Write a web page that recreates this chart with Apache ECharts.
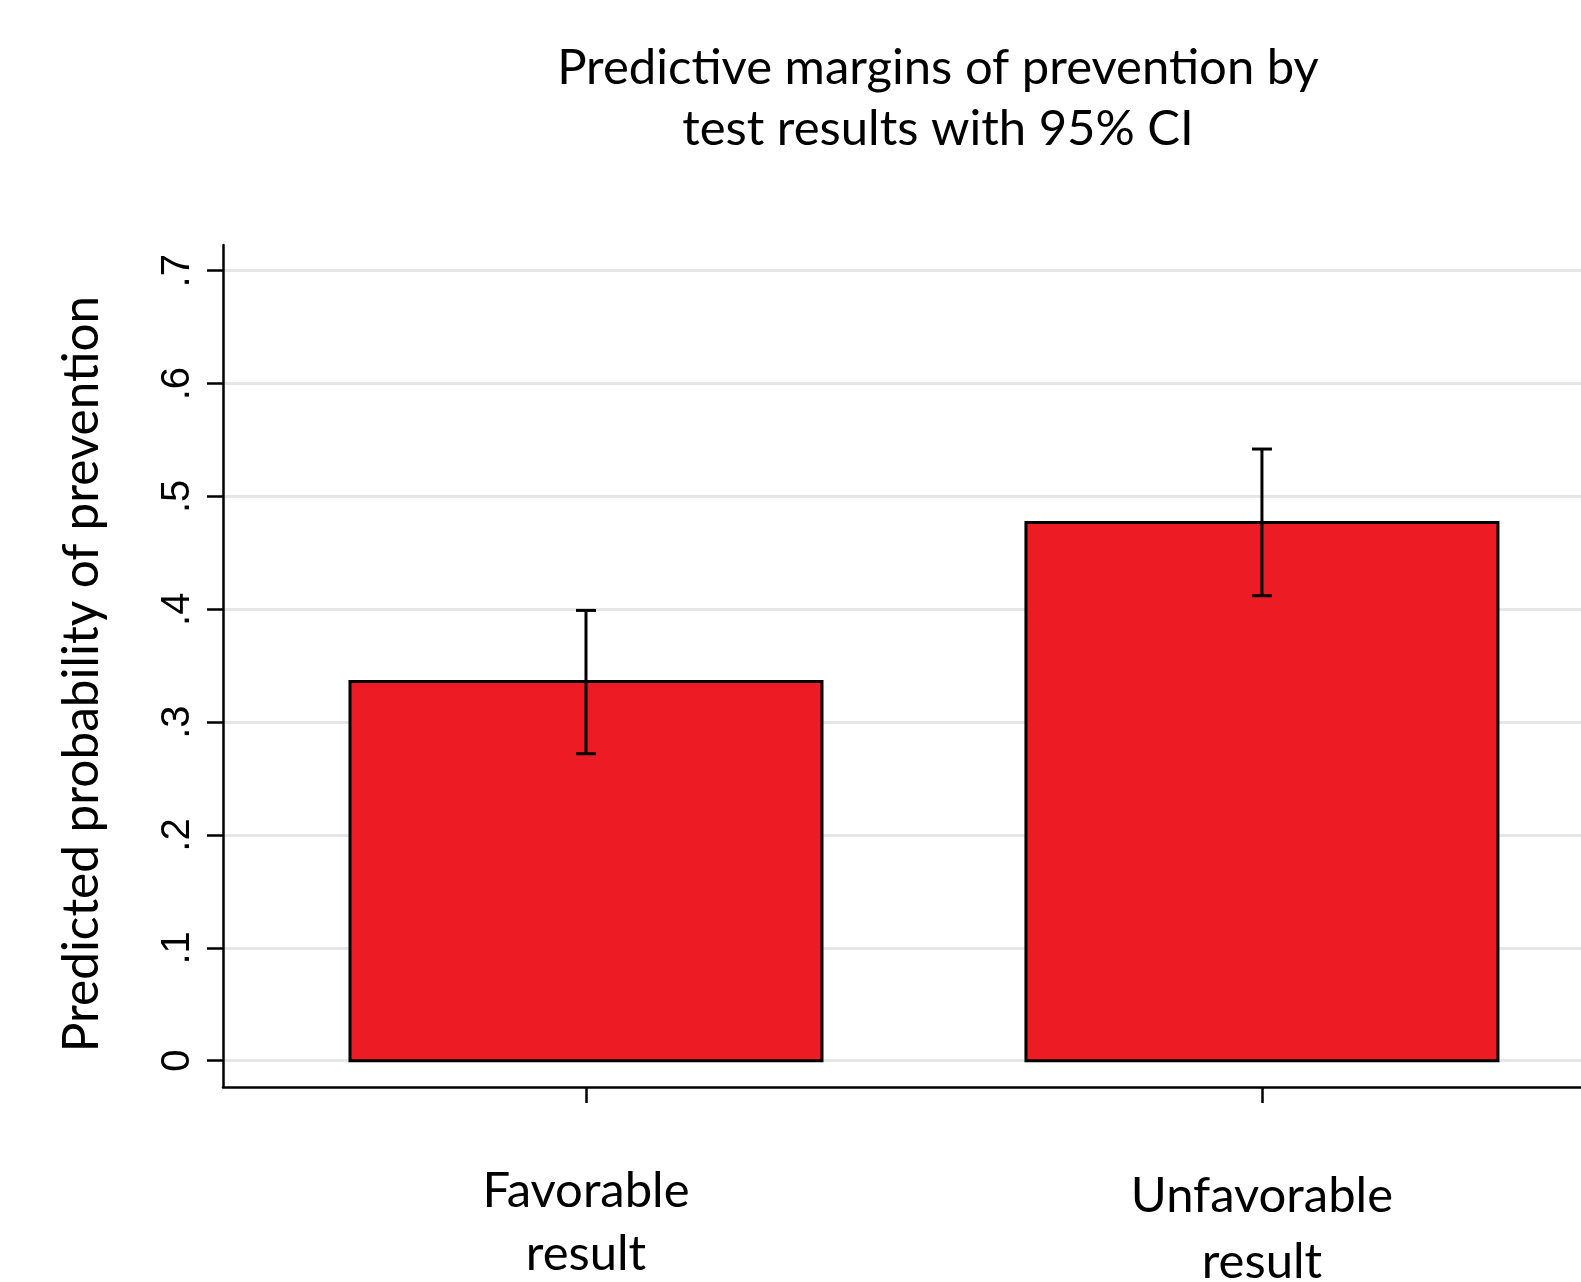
<!DOCTYPE html>
<html>
<head>
<meta charset="utf-8">
<title>Predictive margins of prevention</title>
<script src="https://cdn.jsdelivr.net/npm/echarts@6/dist/echarts.min.js"></script>
<style>
  html, body { margin: 0; padding: 0; background: #ffffff; }
  #chart { width: 1581px; height: 1282px; }
</style>
</head>
<body>
<div id="chart"></div>
<script>
// Test-result groups and their positions on the x scale
const categories = ['Favorable result', 'Unfavorable result'];
const categoryPositions = [1, 2];

// Predicted probability of prevention (margins) with 95% CI bounds
const margins = [0.336, 0.477];
const ciLower = [0.272, 0.412];
const ciUpper = [0.399, 0.542];

// Y-axis ticks and their labels
const yTickValues = [0, 0.1, 0.2, 0.3, 0.4, 0.5, 0.6, 0.7];
const yTickLabels = ['0', '.1', '.2', '.3', '.4', '.5', '.6', '.7'];

const BAR_RED = '#ED1C24';
const BAR_WIDTH_PX = 472;
const CAP_WIDTH_PX = 20;

const barData = categoryPositions.map((x, i) => [x, margins[i]]);
const ciData = categoryPositions.map((x, i) => [x, ciLower[i], ciUpper[i]]);

const chart = echarts.init(document.getElementById('chart'), null, { renderer: 'canvas' });

const option = {
  backgroundColor: '#ffffff',
  animation: false,
  title: {
    text: 'Predictive margins of prevention by\ntest results with 95% CI',
    left: 933,
    top: 33,
    textAlign: 'center',
    textStyle: {
      fontFamily: 'Lato',
      fontWeight: 'normal',
      fontSize: 49,
      lineHeight: 61,
      color: '#000000'
    }
  },
  grid: {
    left: 223,
    right: 0,
    top: 245,
    bottom: 195,
    containLabel: false,
    outerBoundsMode: 'none'
  },
  xAxis: {
    type: 'value',
    min: 0.463,
    max: 2.472,
    axisLine: { show: true, onZero: false, lineStyle: { color: '#000000', width: 2.5 } },
    axisTick: {
      show: true,
      length: 16,
      customValues: categoryPositions,
      lineStyle: { color: '#000000', width: 2.5 }
    },
    axisLabel: {
      show: true,
      customValues: categoryPositions,
      margin: 73,
      fontFamily: 'Lato',
      fontSize: 49,
      color: '#000000',
      formatter: function (v) {
        const idx = categoryPositions.indexOf(v);
        const words = categories[idx].split(' ');
        if (idx === 0) {
          return '{a|' + words[0] + '}\n{a|' + words[1] + '}';
        }
        return '{b|' + words[0] + '}\n{c|' + words[1] + '}';
      },
      rich: {
        a: { fontFamily: 'Lato', fontSize: 49, lineHeight: 63, color: '#000000' },
        b: { fontFamily: 'Lato', fontSize: 49, lineHeight: 73, color: '#000000' },
        c: { fontFamily: 'Lato', fontSize: 49, lineHeight: 59, color: '#000000' }
      }
    },
    splitLine: { show: false }
  },
  yAxis: {
    type: 'value',
    min: -0.0233,
    max: 0.7228,
    name: 'Predicted probability of prevention',
    nameLocation: 'middle',
    nameRotate: 90,
    nameGap: 116,
    nameTextStyle: {
      fontFamily: 'Lato',
      fontSize: 49.5,
      color: '#000000',
      padding: [0, 16, 0, 0]
    },
    axisLine: { show: true, onZero: false, lineStyle: { color: '#000000', width: 2.5 } },
    axisTick: {
      show: true,
      length: 16,
      customValues: yTickValues,
      lineStyle: { color: '#000000', width: 2.5 }
    },
    axisLabel: {
      show: true,
      customValues: yTickValues,
      rotate: 90,
      margin: 25,
      fontFamily: 'Liberation Sans',
      fontSize: 40,
      color: '#000000',
      formatter: function (v) {
        const idx = yTickValues.findIndex(t => Math.abs(t - v) < 1e-9);
        return idx >= 0 ? yTickLabels[idx] : '';
      }
    },
    splitLine: {
      show: true,
      lineStyle: { color: '#e6e6e6', width: 3 }
    }
  },
  series: [
    {
      name: 'Margin',
      type: 'custom',
      data: barData,
      renderItem: function (params, api) {
        const x = api.value(0);
        const top = api.coord([x, api.value(1)]);
        const base = api.coord([x, 0]);
        return {
          type: 'rect',
          shape: {
            x: top[0] - BAR_WIDTH_PX / 2,
            y: top[1],
            width: BAR_WIDTH_PX,
            height: base[1] - top[1]
          },
          style: { fill: BAR_RED, stroke: '#000000', lineWidth: 3 }
        };
      },
      z: 2
    },
    {
      name: '95% CI',
      type: 'custom',
      data: ciData,
      renderItem: function (params, api) {
        const x = api.value(0);
        const lo = api.coord([x, api.value(1)]);
        const hi = api.coord([x, api.value(2)]);
        const style = { stroke: '#000000', lineWidth: 3 };
        return {
          type: 'group',
          children: [
            { type: 'line', shape: { x1: lo[0], y1: lo[1], x2: hi[0], y2: hi[1] }, style: style },
            { type: 'line', shape: { x1: hi[0] - CAP_WIDTH_PX / 2, y1: hi[1], x2: hi[0] + CAP_WIDTH_PX / 2, y2: hi[1] }, style: style },
            { type: 'line', shape: { x1: lo[0] - CAP_WIDTH_PX / 2, y1: lo[1], x2: lo[0] + CAP_WIDTH_PX / 2, y2: lo[1] }, style: style }
          ]
        };
      },
      z: 3
    }
  ]
};

chart.setOption(option);
</script>
</body>
</html>
